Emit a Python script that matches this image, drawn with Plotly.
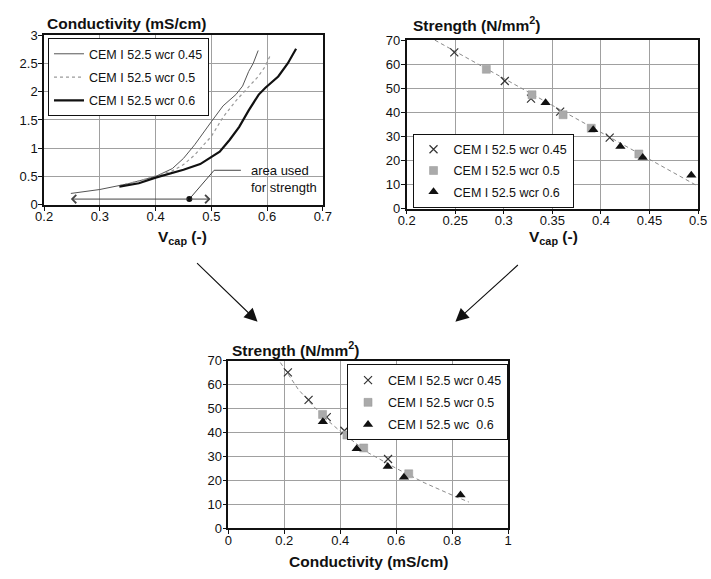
import plotly.graph_objects as go

W, H = 711, 579

# ---------------- data ----------------
# Top-left: conductivity vs Vcap
vcap_045 = [0.248, 0.30, 0.35, 0.40, 0.43, 0.45, 0.47, 0.486, 0.50, 0.521, 0.544, 0.556, 0.567, 0.575, 0.584]
cond_045 = [0.20, 0.27, 0.37, 0.50, 0.64, 0.82, 1.06, 1.29, 1.47, 1.75, 1.95, 2.10, 2.36, 2.50, 2.73]
vcap_05 = [0.335, 0.37, 0.40, 0.43, 0.45, 0.47, 0.50, 0.521, 0.544, 0.567, 0.584, 0.596, 0.607]
cond_05 = [0.34, 0.42, 0.51, 0.60, 0.71, 0.88, 1.21, 1.55, 1.84, 2.08, 2.27, 2.44, 2.67]
vcap_06 = [0.335, 0.37, 0.40, 0.43, 0.45, 0.48, 0.50, 0.515, 0.533, 0.55, 0.567, 0.585, 0.597, 0.62, 0.637, 0.652]
cond_06 = [0.32, 0.38, 0.48, 0.56, 0.62, 0.72, 0.84, 0.94, 1.15, 1.38, 1.67, 1.95, 2.07, 2.27, 2.50, 2.76]

# Top-right: strength vs Vcap
sv_x_045 = [0.249, 0.301, 0.328, 0.358, 0.409]
sv_y_045 = [64.9, 53.0, 45.7, 40.3, 29.5]
sv_x_05 = [0.282, 0.329, 0.361, 0.390, 0.439]
sv_y_05 = [57.9, 47.3, 39.0, 33.4, 22.7]
sv_x_06 = [0.343, 0.392, 0.420, 0.443, 0.493]
sv_y_06 = [44.0, 32.8, 25.8, 21.2, 13.9]
sv_trend_x = [0.229, 0.30, 0.40, 0.499]
sv_trend_y = [70.0, 54.0, 31.8, 9.5]

# Bottom: strength vs conductivity
sc_x_045 = [0.213, 0.287, 0.352, 0.415, 0.571]
sc_y_045 = [65.1, 53.6, 46.4, 40.7, 28.9]
sc_x_05 = [0.337, 0.424, 0.484, 0.645]
sc_y_05 = [47.5, 38.9, 33.5, 22.7]
sc_x_06 = [0.338, 0.459, 0.570, 0.628, 0.830]
sc_y_06 = [44.4, 33.2, 25.8, 21.3, 13.8]
sc_trend_x = [0.186, 0.25, 0.30, 0.35, 0.40, 0.50, 0.60, 0.70, 0.80, 0.86]
sc_trend_y = [69.2, 58.0, 51.5, 45.5, 40.5, 31.5, 25.0, 19.0, 13.8, 10.9]

names = ["CEM I 52.5 wcr 0.45", "CEM I 52.5 wcr 0.5", "CEM I 52.5 wcr 0.6"]
names_bottom = ["CEM I 52.5 wcr 0.45", "CEM I 52.5 wcr 0.5", "CEM I 52.5 wc\u00a0 0.6"]

# annotation geometry in top-left (data units)
range_arrow_y = 0.1
range_arrow_x = [0.248, 0.4985]
dot_x, dot_y = [0.4605], [0.1]
leader_x = [0.4605, 0.505, 0.553]
leader_y = [0.1, 0.61, 0.61]

FONT = "Arial, Liberation Sans, sans-serif"

fig = go.Figure()

# ---- top-left curves ----
fig.add_trace(go.Scatter(x=vcap_045, y=cond_045, mode="lines", name=names[0],
                         line=dict(color="#555555", width=1), xaxis="x", yaxis="y",
                         legend="legend", legendgroup="a1"))
fig.add_trace(go.Scatter(x=vcap_05, y=cond_05, mode="lines", name=names[1],
                         line=dict(color="#9a9a9a", width=1.2, dash="dot"), xaxis="x", yaxis="y",
                         legend="legend", legendgroup="a2"))
fig.add_trace(go.Scatter(x=vcap_06, y=cond_06, mode="lines", name=names[2],
                         line=dict(color="#111111", width=2.2), xaxis="x", yaxis="y",
                         legend="legend", legendgroup="a3"))
fig.add_trace(go.Scatter(x=leader_x, y=leader_y, mode="lines", showlegend=False,
                         line=dict(color="#444444", width=1), xaxis="x", yaxis="y", hoverinfo="skip"))
fig.add_trace(go.Scatter(x=dot_x, y=dot_y, mode="markers", showlegend=False,
                         marker=dict(color="#111111", size=6), xaxis="x", yaxis="y", hoverinfo="skip"))

# ---- top-right ----
mk_x = dict(symbol="x-thin", size=8, color="#333333", line=dict(width=1.2, color="#333333"))
mk_sq = dict(symbol="square", size=8, color="#aaaaaa", line=dict(width=0.5, color="#999999"))
mk_tri = dict(symbol="triangle-up", size=9, color="#111111")

fig.add_trace(go.Scatter(x=sv_trend_x, y=sv_trend_y, mode="lines", showlegend=False,
                         line=dict(color="#8a8a8a", width=1, dash="4px,3px"), xaxis="x2", yaxis="y2", hoverinfo="skip"))
fig.add_trace(go.Scatter(x=sv_x_045, y=sv_y_045, mode="markers", name=names[0], marker=mk_x,
                         xaxis="x2", yaxis="y2", legend="legend2", legendgroup="b1"))
fig.add_trace(go.Scatter(x=sv_x_05, y=sv_y_05, mode="markers", name=names[1], marker=mk_sq,
                         xaxis="x2", yaxis="y2", legend="legend2", legendgroup="b2"))
fig.add_trace(go.Scatter(x=sv_x_06, y=sv_y_06, mode="markers", name=names[2], marker=mk_tri,
                         xaxis="x2", yaxis="y2", legend="legend2", legendgroup="b3"))

# ---- bottom ----
fig.add_trace(go.Scatter(x=sc_trend_x, y=sc_trend_y, mode="lines", showlegend=False,
                         line=dict(color="#8a8a8a", width=1, dash="4px,3px"), xaxis="x3", yaxis="y3", hoverinfo="skip"))
fig.add_trace(go.Scatter(x=sc_x_045, y=sc_y_045, mode="markers", name=names_bottom[0], marker=mk_x,
                         xaxis="x3", yaxis="y3", legend="legend3", legendgroup="c1"))
fig.add_trace(go.Scatter(x=sc_x_05, y=sc_y_05, mode="markers", name=names_bottom[1], marker=mk_sq,
                         xaxis="x3", yaxis="y3", legend="legend3", legendgroup="c2"))
fig.add_trace(go.Scatter(x=sc_x_06, y=sc_y_06, mode="markers", name=names_bottom[2], marker=mk_tri,
                         xaxis="x3", yaxis="y3", legend="legend3", legendgroup="c3"))


def px_x(p):
    return p / W


def px_y(p):
    return 1 - p / H


def axis(dom, rng, dtick, anchor, standoff):
    return dict(domain=dom, range=rng, dtick=dtick, tick0=0, anchor=anchor,
                showgrid=True, gridcolor="#a0a0a0", gridwidth=1,
                showline=True, linecolor="#111111", linewidth=1.6, mirror=True,
                ticks="outside", ticklen=4, tickcolor="#111111", tickwidth=1,
                ticklabelstandoff=standoff,
                zeroline=False, tickfont=dict(family=FONT, size=13, color="#111111"),
                fixedrange=True)


leg_common = dict(bgcolor="white", bordercolor="#111111", borderwidth=1,
                  font=dict(family=FONT, size=12.5, color="#111111"),
                  traceorder="grouped", itemwidth=30)

fig.update_layout(
    width=W, height=H, margin=dict(l=0, r=0, t=0, b=0),
    paper_bgcolor="white", plot_bgcolor="white",
    xaxis=axis([px_x(36), px_x(322)], [0.2, 0.7], 0.1, "y", -5),
    yaxis=axis([px_y(203), px_y(29)], [0, 3], 0.5, "x", -2),
    xaxis2=axis([px_x(408), px_x(707)], [0.2, 0.5], 0.05, "y2", -5),
    yaxis2=axis([px_y(207), px_y(34)], [0, 70], 10, "x2", -2),
    xaxis3=axis([px_x(225), px_x(512)], [0, 1], 0.2, "y3", -5),
    yaxis3=axis([px_y(535), px_y(363)], [0, 70], 10, "x3", -2),
    legend=dict(x=px_x(40), y=px_y(32), xanchor="left", yanchor="top", tracegroupgap=4, **leg_common),
    legend2=dict(x=px_x(414), y=px_y(130), xanchor="left", yanchor="top", tracegroupgap=2, **leg_common),
    legend3=dict(x=px_x(512), y=px_y(367), xanchor="right", yanchor="top", tracegroupgap=3, **leg_common),
    showlegend=True,
)

ann = []
bold = dict(family=FONT, size=15.5, color="#111111")
ann.append(dict(text="<b>Conductivity (mS/cm)</b>", x=0, y=1, xref="x domain", yref="y domain",
                xanchor="left", yanchor="bottom", xshift=1, yshift=1, showarrow=False, font=bold))
ann.append(dict(text="<b>V<sub>cap</sub> (-)</b>", x=px_x(178), y=px_y(237), xref="paper", yref="paper",
                xanchor="center", yanchor="middle", showarrow=False, font=bold))
ann.append(dict(text="<b>Strength (N/mm<sup>2</sup>)</b>", x=px_x(412), y=px_y(17), xref="paper", yref="paper",
                xanchor="left", yanchor="middle", showarrow=False, font=bold))
ann.append(dict(text="<b>V<sub>cap</sub> (-)</b>", x=px_x(559), y=px_y(237), xref="paper", yref="paper",
                xanchor="center", yanchor="middle", showarrow=False, font=bold))
ann.append(dict(text="<b>Strength (N/mm<sup>2</sup>)</b>", x=px_x(227), y=px_y(351), xref="paper", yref="paper",
                xanchor="left", yanchor="middle", showarrow=False, font=bold))
ann.append(dict(text="<b>Conductivity (mS/cm)</b>", x=px_x(369), y=px_y(569), xref="paper", yref="paper",
                xanchor="center", yanchor="middle", showarrow=False, font=bold))

# "area used for strength" label
ann.append(dict(text="area used<br>for strength", x=0.568, y=0.45, xref="x", yref="y",
                xanchor="left", yanchor="middle", align="left", showarrow=False,
                font=dict(family=FONT, size=13, color="#111111")))
# double-headed range arrow
for xe in range_arrow_x:
    ann.append(dict(x=xe, y=range_arrow_y, ax=dot_x[0], ay=range_arrow_y, xref="x", yref="y",
                    axref="x", ayref="y", showarrow=True, arrowhead=4, arrowsize=1.6,
                    arrowwidth=1, arrowcolor="#444444", text=""))

# big connector arrows between panels
ann.append(dict(x=px_x(255), y=px_y(323), ax=-62, ay=-60, xref="paper", yref="paper",
                showarrow=True, arrowhead=2, arrowsize=2.4, arrowwidth=1.1, arrowcolor="#111111", text=""))
ann.append(dict(x=px_x(458), y=px_y(323), ax=64, ay=-58, xref="paper", yref="paper",
                showarrow=True, arrowhead=2, arrowsize=2.4, arrowwidth=1.1, arrowcolor="#111111", text=""))

fig.update_layout(annotations=ann)

fig.write_html("out.html")
